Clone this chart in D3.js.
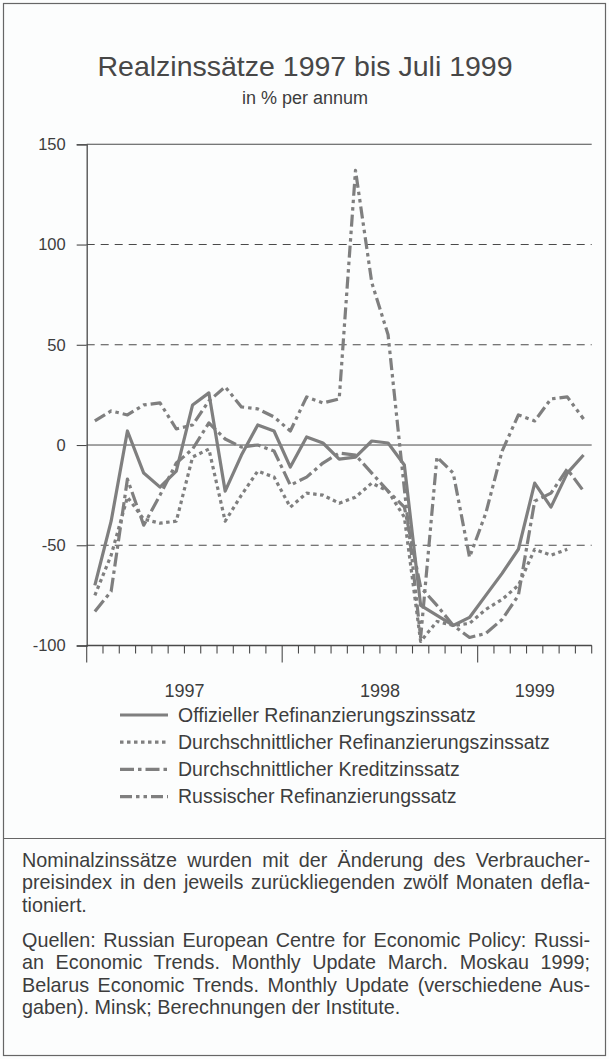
<!DOCTYPE html>
<html>
<head>
<meta charset="utf-8">
<script src="https://cdn.jsdelivr.net/npm/d3@7"></script>
<style>
  body { margin: 0; background: #fff; }
  svg text { font-family: "Liberation Sans", Arial, Helvetica, sans-serif; fill: #3d3d3d; }
</style>
</head>
<body>
<svg id="chart" width="609" height="1059"></svg>
<script>
// months Jan 1997 .. Jul 1999
var months = [
  "1997-01","1997-02","1997-03","1997-04","1997-05","1997-06","1997-07","1997-08","1997-09","1997-10","1997-11","1997-12",
  "1998-01","1998-02","1998-03","1998-04","1998-05","1998-06","1998-07","1998-08","1998-09","1998-10","1998-11","1998-12",
  "1999-01","1999-02","1999-03","1999-04","1999-05","1999-06","1999-07"
];
var yearLabels = ["1997", "1998", "1999"];
var yTicks = [150, 100, 50, 0, -50, -100];

// real interest rates, % p.a.
var offiziell = [-70, -38, 7, -14, -21, -13, 20, 26, -23, -5, 10, 7, -11, 4, 1, -7, -6, 2, 1, -10,
                 -80, -85, -90, -86, -75, -64, -52, -19, -31, -14, -5];
var durchRefi = [-75, -55, -26, -37, -39, -38, -6, -2, -38, -25, -13, -16, -31, -24, -25, -29, -26, -19, -23, -36,
                 -98, -88, -90, -89, -82, -77, -70, -52, -55, -52, null];
var kredit    = [-83, -73, -17, -40, -25, -9, -2, 11, 3, -1, 0, -3, -20, -16, -9, -4, -5, -14, -23, -31,
                 -71, -80, -90, -96, -94, -87, -75, -28, -24, -12, -23];
var russland  = [12, 17, 15, 20, 21, 8, 10, 22, 29, 19, 18, 14, 7, 24, 21, 23, 137, 81, 55, -22,
                 -96, -6, -14, -56, -34, -3, 15, 12, 23, 24, 13];

var seriesNames = [
  "Offizieller Refinanzierungszinssatz",
  "Durchschnittlicher Refinanzierungszinssatz",
  "Durchschnittlicher Kreditzinssatz",
  "Russischer Refinanzierungssatz"
];

var noteLines = [
  ["Nominalzinssätze wurden mit der Änderung des Verbraucher-", true],
  ["preisindex in den jeweils zurückliegenden zwölf Monaten defla-", true],
  ["tioniert.", false]
];
var sourceLines = [
  ["Quellen: Russian European Centre for Economic Policy: Russi-", true],
  ["an Economic Trends. Monthly Update March. Moskau 1999;", true],
  ["Belarus Economic Trends. Monthly Update (verschiedene Aus-", true],
  ["gaben). Minsk; Berechnungen der Institute.", false]
];

var lineColor = "#7f7f7f", axisColor = "#4a4a4a";
var styles = [
  { dash: null },
  { dash: "3.5,3.5" },
  { dash: "14,4,3.5,4" },
  { dash: "12,4,3.5,4,3.5,4" }
];
var data = [offiziell, durchRefi, kredit, russland];

var svg = d3.select("#chart");
svg.append("rect").attr("width", 609).attr("height", 1059).attr("fill", "#fcfdfd");

// frame
svg.append("rect")
  .attr("x", 3.5).attr("y", 3.5).attr("width", 602).attr("height", 1052)
  .attr("fill", "none").attr("stroke", "#666").attr("stroke-width", 1.2);
svg.append("line")
  .attr("x1", 3.5).attr("x2", 605.5).attr("y1", 838.5).attr("y2", 838.5)
  .attr("stroke", "#666").attr("stroke-width", 1);

// titles
svg.append("text").attr("x", 305).attr("y", 76).attr("text-anchor", "middle")
  .style("font-size", "28.5px").style("fill", "#474747").text("Realzinssätze 1997 bis Juli 1999");
svg.append("text").attr("x", 305).attr("y", 104).attr("text-anchor", "middle")
  .style("font-size", "18px").text("in % per annum");

var plotLeft = 86.7, plotRight = 591.7, plotTop = 144.3, plotBottom = 645.5;

var x = d3.scaleBand().domain(months).range([plotLeft, plotRight]).paddingInner(0).paddingOuter(0);
var y = d3.scaleLinear().domain([-100, 150]).range([plotBottom, plotTop]);

var plot = svg.append("g");

// grid lines
plot.selectAll(".grid").data(yTicks).enter().append("line")
  .attr("x1", plotLeft).attr("x2", plotRight)
  .attr("y1", function(d) { return y(d); }).attr("y2", function(d) { return y(d); })
  .attr("stroke", axisColor)
  .attr("stroke-width", function(d) { return d == 0 ? 1 : 1.1; })
  .attr("stroke-dasharray", function(d) { return (d == 0 || d == 150 || d == -100) ? null : "8,6"; });

// y axis
var yAxis = d3.axisLeft(y).tickValues(yTicks).tickSize(10).tickPadding(11)
  .tickFormat(function(d) { return String(d); });
var gy = plot.append("g").attr("transform", "translate(" + plotLeft + ",0)").call(yAxis);
gy.select(".domain").attr("stroke", axisColor).attr("stroke-width", 1.3);
gy.selectAll(".tick line").attr("stroke", axisColor).attr("stroke-width", 1.1);
gy.selectAll(".tick text").style("font-size", "16.5px").attr("fill", "#3d3d3d");

// x axis: month ticks, long ticks at year starts
var boundaries = d3.range(months.length + 1);
var tickX = function(i) { return i < months.length ? x(months[i]) : plotRight; };
plot.append("line").attr("x1", plotLeft).attr("x2", plotRight).attr("y1", plotBottom).attr("y2", plotBottom)
  .attr("stroke", axisColor).attr("stroke-width", 1.3);
plot.selectAll(".mtick").data(boundaries).enter().append("line")
  .attr("x1", tickX).attr("x2", tickX)
  .attr("y1", plotBottom)
  .attr("y2", function(i) { return plotBottom + (i % 12 == 0 ? 17 : 8); })
  .attr("stroke", axisColor).attr("stroke-width", 1.1);
plot.selectAll(".ylab").data(yearLabels).enter().append("text")
  .attr("x", function(d) {
    var first = months.indexOf(d + "-01");
    var n = months.filter(function(m) { return m.slice(0, 4) == d; }).length;
    return x(months[first]) + n * x.bandwidth() / 2;
  })
  .attr("y", 697).attr("text-anchor", "middle").style("font-size", "18px").text(function(d) { return d; });

// series
var line = d3.line()
  .defined(function(d) { return d != null; })
  .x(function(d, i) { return x(months[i]) + x.bandwidth() / 2; })
  .y(function(d) { return y(d); });

[3, 1, 2, 0].forEach(function(k) {
  plot.append("path").datum(data[k])
    .attr("d", line)
    .attr("fill", "none").attr("stroke", lineColor).attr("stroke-width", 3.2)
    .attr("stroke-linejoin", "round")
    .attr("stroke-dasharray", styles[k].dash);
});

// legend
var leg = svg.append("g");
seriesNames.forEach(function(name, k) {
  var ly = 715 + k * 27.2;
  leg.append("line").attr("x1", 120).attr("x2", 168).attr("y1", ly).attr("y2", ly)
    .attr("stroke", lineColor).attr("stroke-width", 3.2)
    .attr("stroke-dasharray", styles[k].dash);
  leg.append("text").attr("x", 178).attr("y", ly + 6.5).style("font-size", "19.5px").text(name);
});

// notes, justified
function block(lines, y0) {
  lines.forEach(function(l, i) {
    var t = svg.append("text").attr("x", 22).attr("y", y0 + i * 22.5).style("font-size", "19.8px").text(l[0]);
    if (l[1]) {
      var w = t.node().getComputedTextLength();
      var spaces = l[0].split(" ").length - 1;
      if (spaces > 0) t.attr("word-spacing", ((590 - 22 - w) / spaces) + "px");
    }
  });
}
block(noteLines, 866.5);
block(sourceLines, 946.5);
</script>
</body>
</html>
